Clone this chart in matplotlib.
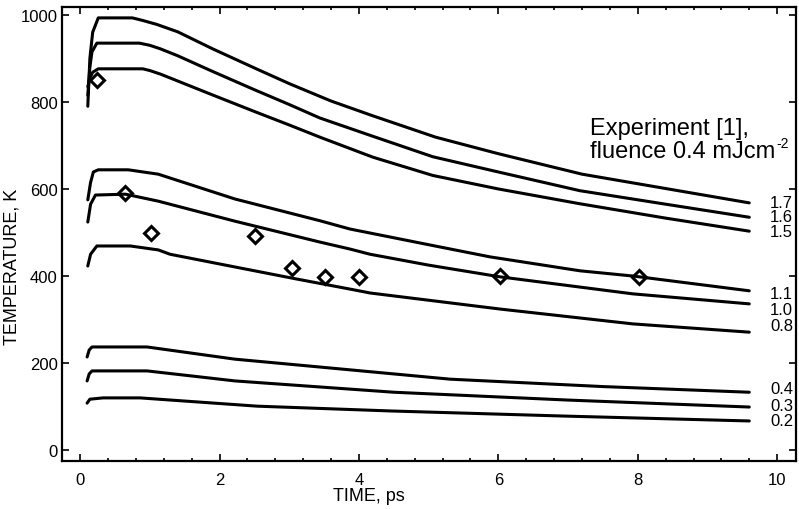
import matplotlib
matplotlib.use("Agg")
import matplotlib.pyplot as plt
from matplotlib.ticker import MultipleLocator

plt.rcParams['font.family'] = ['Liberation Sans', 'DejaVu Sans']

# ---- data (time in ps, temperature in K) ----
fluence_labels = ["1.7", "1.6", "1.5", "1.1", "1.0", "0.8", "0.4", "0.3", "0.2"]

t_17 = [0.11, 0.14, 0.18, 0.26, 0.75, 0.9, 1.1, 1.4, 1.9, 2.5, 3.0, 3.6, 4.2, 5.1, 6.0, 7.2, 8.4, 9.6]
T_17 = [790, 900, 960, 993, 993, 987, 978, 961, 922, 878, 842, 802, 768, 719, 681, 634, 601, 568]

t_16 = [0.11, 0.14, 0.17, 0.24, 0.85, 1.0, 1.15, 1.4, 1.9, 2.5, 3.0, 3.44, 4.2, 5.06, 6.0, 7.17, 8.4, 9.6]
T_16 = [815, 880, 915, 935, 935, 930, 922, 906, 870, 828, 794, 763, 721, 674, 639, 596, 565, 535]

t_15 = [0.11, 0.14, 0.18, 0.26, 0.9, 1.0, 1.15, 1.4, 1.9, 2.5, 3.0, 3.44, 4.2, 5.06, 6.0, 7.17, 8.4, 9.6]
T_15 = [835, 855, 868, 876, 876, 872, 864, 848, 816, 778, 747, 719, 673, 631, 600, 566, 533, 503]

t_11 = [0.11, 0.15, 0.19, 0.26, 0.69, 1.12, 2.22, 3.44, 3.87, 5.06, 5.88, 7.17, 7.93, 9.6]
T_11 = [575, 615, 639, 644, 644, 634, 577, 527, 508, 470, 444, 412, 400, 366]

t_10 = [0.11, 0.15, 0.22, 0.65, 1.12, 2.22, 3.44, 3.87, 4.16, 5.0, 6.03, 7.93, 9.6]
T_10 = [524, 565, 586, 588, 572, 526, 478, 462, 450, 425, 398, 359, 336]

t_08 = [0.11, 0.15, 0.24, 0.72, 1.12, 1.29, 2.15, 3.11, 3.87, 4.16, 6.03, 7.93, 9.6]
T_08 = [423, 450, 469, 469, 460, 450, 423, 393, 370, 361, 324, 290, 271]

t_04 = [0.10, 0.13, 0.17, 0.96, 2.22, 3.5, 5.31, 7.5, 9.6]
T_04 = [214, 230, 237, 237, 209, 190, 163, 146, 133]

t_03 = [0.10, 0.13, 0.17, 0.96, 1.62, 2.22, 4.5, 7.0, 9.6]
T_03 = [159, 175, 182, 182, 170, 159, 133, 115, 99]

t_02 = [0.10, 0.14, 0.33, 0.86, 2.54, 4.45, 7.0, 9.6]
T_02 = [108, 117, 120, 120, 101, 90, 78, 67]

label_y = [568, 537, 503, 359, 322, 287, 142, 103, 67]

exp_t = [0.24, 0.65, 1.02, 2.51, 3.04, 3.52, 4.0, 6.03, 8.02]
exp_T = [851, 591, 499, 492, 418, 398, 398, 400, 397]

curves = [(t_17, T_17), (t_16, T_16), (t_15, T_15), (t_11, T_11), (t_10, T_10),
          (t_08, T_08), (t_04, T_04), (t_03, T_03), (t_02, T_02)]

# ---- figure ----
fig = plt.figure(figsize=(7.99, 5.10), dpi=100)
ax = fig.add_axes([0.0776, 0.0941, 0.9186, 0.8902])

for (t, T), lab, ly in zip(curves, fluence_labels, label_y):
    ax.plot(t, T, color='black', lw=2.2, solid_capstyle='round', solid_joinstyle='round')
    ax.text(9.9, ly, lab, fontsize=12, va='center', ha='left')

ax.plot(exp_t, exp_T, linestyle='none', marker='D', markersize=7,
        markerfacecolor='none', markeredgecolor='black', markeredgewidth=2.2)

ax.text(7.32, 726, "Experiment [1],", fontsize=17, ha='left', va='baseline')
t2 = ax.text(7.32, 673, "fluence 0.4 mJcm", fontsize=17, ha='left', va='baseline')
ax.annotate("-2", xy=(1.0, 1.0), xycoords=t2, xytext=(0.5, 3),
            textcoords='offset points', fontsize=10, ha='left', va='top')

ax.set_xlim(-0.26, 10.27)
ax.set_ylim(-25, 1018)
ax.set_xticks([0, 2, 4, 6, 8, 10])
ax.set_yticks([0, 200, 400, 600, 800, 1000])
ax.xaxis.set_minor_locator(MultipleLocator(0.4))

ax.tick_params(which='both', direction='in', top=True, right=True, width=1.2)
ax.tick_params(which='major', length=5, labelsize=12)
ax.tick_params(which='minor', length=2.5)
ax.tick_params(axis='x', which='major', pad=8)
ax.tick_params(axis='y', which='major', pad=3)

for s in ax.spines.values():
    s.set_linewidth(1.6)

ax.set_xlabel("TIME, ps", fontsize=13)
ax.set_ylabel("TEMPERATURE, K", fontsize=13)
ax.xaxis.set_label_coords(0.418, -0.077, transform=ax.transAxes)
ax.yaxis.set_label_coords(-0.068, 0.43, transform=ax.transAxes)
ax.xaxis.label.set_verticalalignment('center')
ax.yaxis.label.set_verticalalignment('center')

fig.savefig("out.png", dpi=100)
